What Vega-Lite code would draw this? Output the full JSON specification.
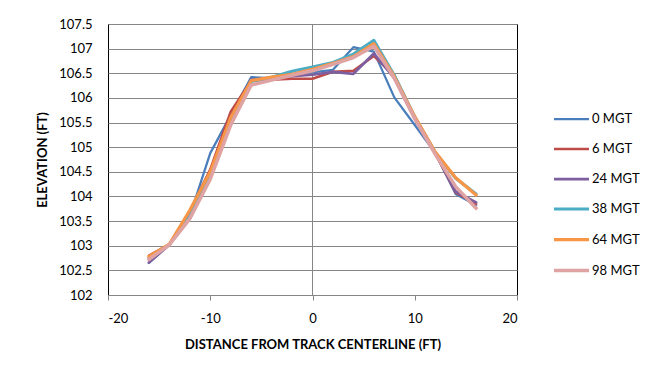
{
  "$schema": "https://vega.github.io/schema/vega-lite/v6.json",
  "width": 409,
  "height": 271,
  "autosize": {"type": "none"},
  "padding": {"left": 108, "top": 24, "right": 139, "bottom": 80},
  "background": "white",
  "config": {
    "font": "Lato",
    "view": {"stroke": "#000000", "strokeWidth": 1},
    "axis": {"labelFont": "Lato", "titleFont": "Lato", "labelColor": "#000", "titleColor": "#000", "labelFontSize": 13, "titleFontSize": 13, "titleFontWeight": "bold"},
    "legend": {"labelFont": "Lato", "labelFontSize": 13, "labelColor": "#000"}
  },
  "data": {"values": [
    {"series": "0 MGT", "x": -16, "y": 102.65},
    {"series": "0 MGT", "x": -14, "y": 103.02},
    {"series": "0 MGT", "x": -12, "y": 103.6},
    {"series": "0 MGT", "x": -10, "y": 104.88},
    {"series": "0 MGT", "x": -8, "y": 105.65},
    {"series": "0 MGT", "x": -6, "y": 106.42},
    {"series": "0 MGT", "x": -4, "y": 106.4},
    {"series": "0 MGT", "x": -2, "y": 106.48},
    {"series": "0 MGT", "x": 0, "y": 106.52},
    {"series": "0 MGT", "x": 2, "y": 106.57},
    {"series": "0 MGT", "x": 4, "y": 107.03},
    {"series": "0 MGT", "x": 6, "y": 106.94},
    {"series": "0 MGT", "x": 8, "y": 106.01},
    {"series": "0 MGT", "x": 10, "y": 105.45},
    {"series": "0 MGT", "x": 12, "y": 104.88},
    {"series": "0 MGT", "x": 14, "y": 104.05},
    {"series": "0 MGT", "x": 16, "y": 103.82},
    {"series": "6 MGT", "x": -16, "y": 102.8},
    {"series": "6 MGT", "x": -14, "y": 103.03},
    {"series": "6 MGT", "x": -12, "y": 103.7},
    {"series": "6 MGT", "x": -10, "y": 104.55},
    {"series": "6 MGT", "x": -8, "y": 105.72},
    {"series": "6 MGT", "x": -6, "y": 106.35},
    {"series": "6 MGT", "x": -4, "y": 106.37},
    {"series": "6 MGT", "x": -2, "y": 106.39},
    {"series": "6 MGT", "x": 0, "y": 106.39},
    {"series": "6 MGT", "x": 2, "y": 106.53},
    {"series": "6 MGT", "x": 4, "y": 106.55},
    {"series": "6 MGT", "x": 6, "y": 106.85},
    {"series": "6 MGT", "x": 8, "y": 106.46},
    {"series": "6 MGT", "x": 10, "y": 105.6},
    {"series": "6 MGT", "x": 12, "y": 104.88},
    {"series": "6 MGT", "x": 14, "y": 104.08},
    {"series": "6 MGT", "x": 16, "y": 103.85},
    {"series": "24 MGT", "x": -16, "y": 102.66},
    {"series": "24 MGT", "x": -14, "y": 103.02},
    {"series": "24 MGT", "x": -12, "y": 103.55},
    {"series": "24 MGT", "x": -10, "y": 104.45},
    {"series": "24 MGT", "x": -8, "y": 105.55},
    {"series": "24 MGT", "x": -6, "y": 106.37},
    {"series": "24 MGT", "x": -4, "y": 106.4},
    {"series": "24 MGT", "x": -2, "y": 106.44},
    {"series": "24 MGT", "x": 0, "y": 106.47},
    {"series": "24 MGT", "x": 2, "y": 106.53},
    {"series": "24 MGT", "x": 4, "y": 106.49},
    {"series": "24 MGT", "x": 6, "y": 106.9},
    {"series": "24 MGT", "x": 8, "y": 106.4},
    {"series": "24 MGT", "x": 10, "y": 105.58},
    {"series": "24 MGT", "x": 12, "y": 104.88},
    {"series": "24 MGT", "x": 14, "y": 104.1},
    {"series": "24 MGT", "x": 16, "y": 103.88},
    {"series": "38 MGT", "x": -16, "y": 102.75},
    {"series": "38 MGT", "x": -14, "y": 103.02},
    {"series": "38 MGT", "x": -12, "y": 103.6},
    {"series": "38 MGT", "x": -10, "y": 104.4},
    {"series": "38 MGT", "x": -8, "y": 105.5},
    {"series": "38 MGT", "x": -6, "y": 106.33},
    {"series": "38 MGT", "x": -4, "y": 106.42},
    {"series": "38 MGT", "x": -2, "y": 106.54},
    {"series": "38 MGT", "x": 0, "y": 106.63},
    {"series": "38 MGT", "x": 2, "y": 106.72},
    {"series": "38 MGT", "x": 4, "y": 106.89},
    {"series": "38 MGT", "x": 6, "y": 107.17},
    {"series": "38 MGT", "x": 8, "y": 106.46},
    {"series": "38 MGT", "x": 10, "y": 105.62},
    {"series": "38 MGT", "x": 12, "y": 104.9},
    {"series": "38 MGT", "x": 14, "y": 104.37},
    {"series": "38 MGT", "x": 16, "y": 104.05},
    {"series": "64 MGT", "x": -16, "y": 102.78},
    {"series": "64 MGT", "x": -14, "y": 103.03},
    {"series": "64 MGT", "x": -12, "y": 103.72},
    {"series": "64 MGT", "x": -10, "y": 104.5},
    {"series": "64 MGT", "x": -8, "y": 105.6},
    {"series": "64 MGT", "x": -6, "y": 106.35},
    {"series": "64 MGT", "x": -4, "y": 106.42},
    {"series": "64 MGT", "x": -2, "y": 106.48},
    {"series": "64 MGT", "x": 0, "y": 106.58},
    {"series": "64 MGT", "x": 2, "y": 106.7},
    {"series": "64 MGT", "x": 4, "y": 106.84},
    {"series": "64 MGT", "x": 6, "y": 107.1},
    {"series": "64 MGT", "x": 8, "y": 106.43},
    {"series": "64 MGT", "x": 10, "y": 105.62},
    {"series": "64 MGT", "x": 12, "y": 104.9},
    {"series": "64 MGT", "x": 14, "y": 104.38},
    {"series": "64 MGT", "x": 16, "y": 104.03},
    {"series": "98 MGT", "x": -16, "y": 102.72},
    {"series": "98 MGT", "x": -14, "y": 103.02},
    {"series": "98 MGT", "x": -12, "y": 103.55},
    {"series": "98 MGT", "x": -10, "y": 104.35},
    {"series": "98 MGT", "x": -8, "y": 105.45},
    {"series": "98 MGT", "x": -6, "y": 106.26},
    {"series": "98 MGT", "x": -4, "y": 106.36},
    {"series": "98 MGT", "x": -2, "y": 106.46},
    {"series": "98 MGT", "x": 0, "y": 106.55},
    {"series": "98 MGT", "x": 2, "y": 106.68},
    {"series": "98 MGT", "x": 4, "y": 106.82},
    {"series": "98 MGT", "x": 6, "y": 107.05},
    {"series": "98 MGT", "x": 8, "y": 106.4},
    {"series": "98 MGT", "x": 10, "y": 105.58},
    {"series": "98 MGT", "x": 12, "y": 104.86},
    {"series": "98 MGT", "x": 14, "y": 104.2},
    {"series": "98 MGT", "x": 16, "y": 103.76}
  ]},
  "layer": [
    {
      "mark": {"type": "rule", "color": "#868686", "strokeWidth": 1},
      "encoding": {"x": {"datum": 0, "type": "quantitative"}}
    },
    {
      "mark": {"type": "line", "strokeJoin": "round", "strokeCap": "round"},
      "encoding": {
        "x": {
          "field": "x", "type": "quantitative",
          "scale": {"domain": [-20, 20], "nice": false, "zero": false},
          "axis": {
            "title": "DISTANCE FROM TRACK CENTERLINE  (FT)",
            "values": [-20, -10, 0, 10, 20],
            "labelExpr": "'' + datum.value",
            "grid": false,
            "domainColor": "#868686",
            "tickColor": "#868686",
            "tickSize": 5,
            "labelPadding": 12,
            "titlePadding": 13
          }
        },
        "y": {
          "field": "y", "type": "quantitative",
          "scale": {"domain": [102, 107.5], "nice": false, "zero": false},
          "axis": {
            "title": "ELEVATION (FT)",
            "values": [102, 102.5, 103, 103.5, 104, 104.5, 105, 105.5, 106, 106.5, 107, 107.5],
            "labelExpr": "'' + datum.value",
            "grid": true,
            "gridColor": "#868686",
            "gridOpacity": 1,
            "domain": false,
            "ticks": false,
            "labelPadding": 16,
            "titlePadding": 9
          }
        },
        "color": {
          "field": "series", "type": "nominal",
          "scale": {
            "domain": ["0 MGT", "6 MGT", "24 MGT", "38 MGT", "64 MGT", "98 MGT"],
            "range": ["#4A7EBB", "#BE4B48", "#7D5FA0", "#4BACC6", "#F79646", "#E0A3A3"]
          },
          "legend": {
            "title": null,
            "orient": "none",
            "legendX": 444,
            "legendY": 76,
            "symbolType": "stroke",
            "symbolSize": 1225,
            "symbolStrokeWidth": 3,
            "labelOffset": 1,
            "rowPadding": 4
          }
        },
        "strokeWidth": {
          "field": "series", "type": "nominal",
          "scale": {
            "domain": ["0 MGT", "6 MGT", "24 MGT", "38 MGT", "64 MGT", "98 MGT"],
            "range": [2.25, 3.5, 2.25, 2.25, 2.25, 2.25]
          },
          "legend": null
        }
      }
    }
  ]
}
